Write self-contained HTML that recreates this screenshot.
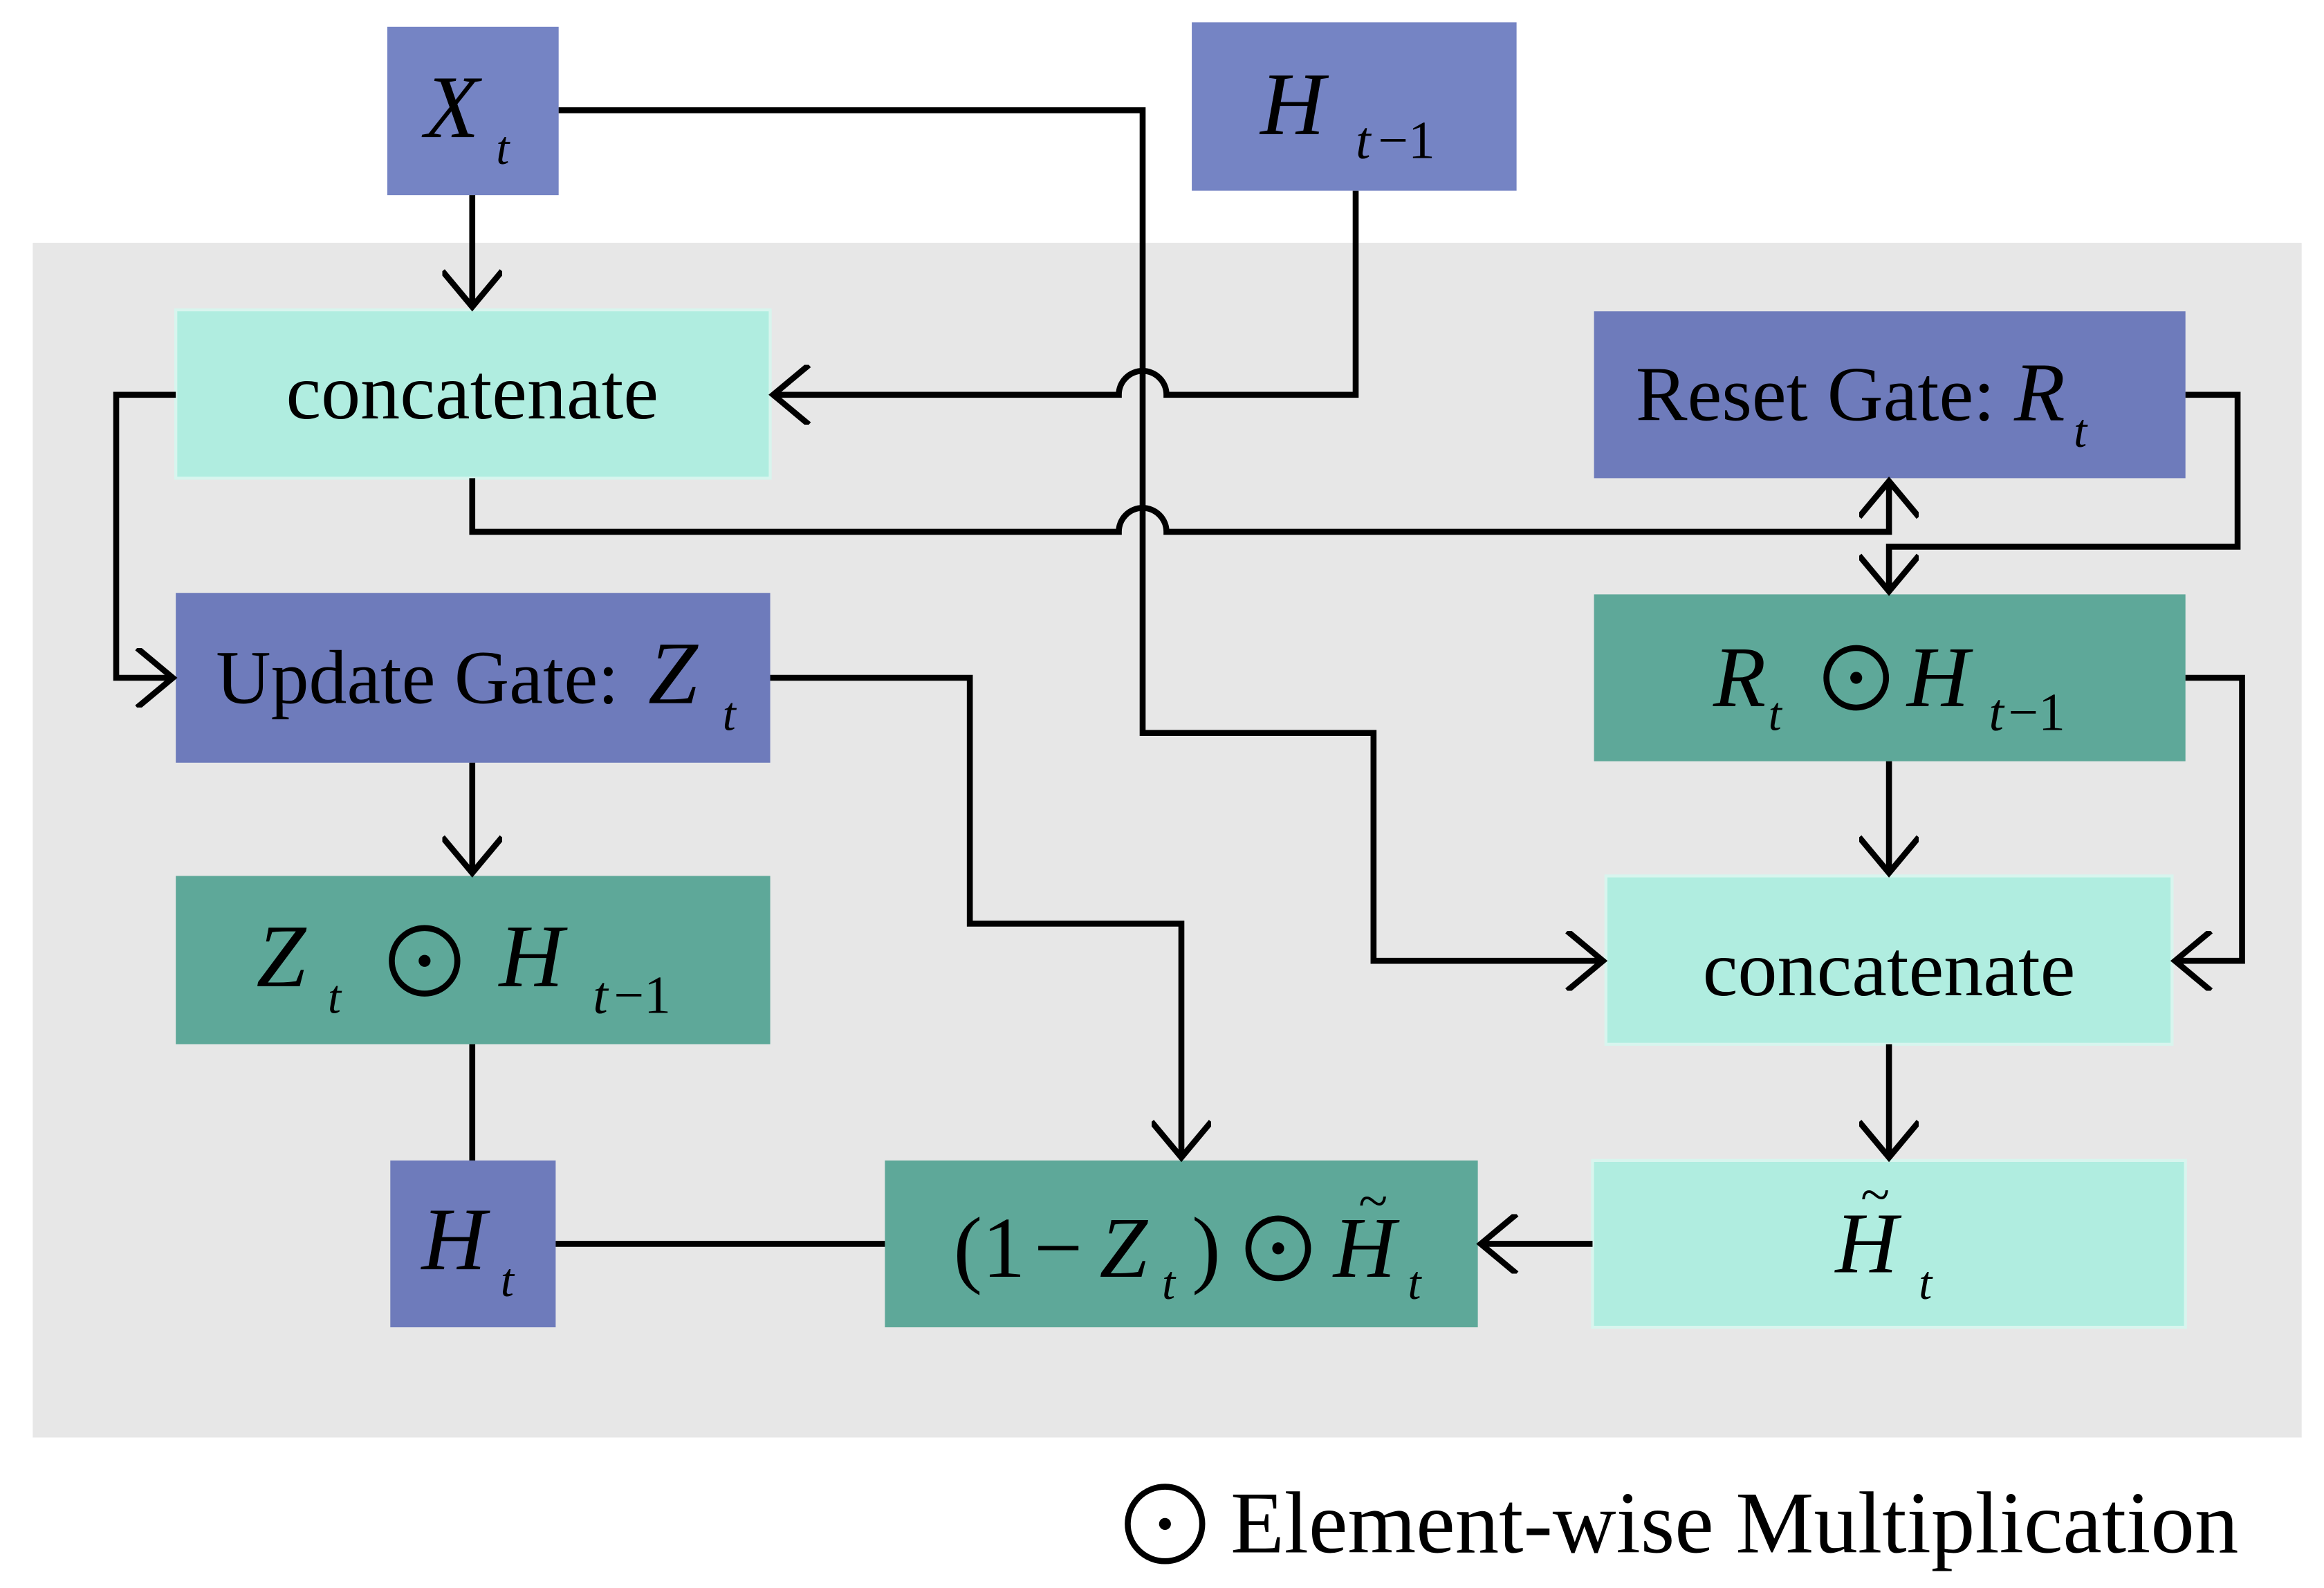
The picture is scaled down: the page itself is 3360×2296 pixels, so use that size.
<!DOCTYPE html>
<html><head><meta charset="utf-8"><style>
html,body{margin:0;padding:0;background:#fff}
svg{display:block}
text{font-family:"Liberation Serif","DejaVu Serif",serif;fill:#000}
.i{font-style:italic}
</style></head><body>
<svg width="3360" height="2296" viewBox="0 0 1560 1066" xmlns="http://www.w3.org/2000/svg">
<defs>
<marker id="a" markerWidth="40" markerHeight="40" refX="30" refY="20" orient="auto" markerUnits="userSpaceOnUse">
<path d="M6,0 L30,20 L6,40" fill="none" stroke="#000" stroke-width="4"/>
</marker>
</defs>
<rect x="22" y="163" width="1523" height="802" fill="#e7e7e7"/>
<rect x="260" y="18" width="115" height="113" fill="#7584c4"/>
<rect x="800" y="15" width="218" height="113" fill="#7584c4"/>
<rect x="118" y="208" width="399" height="113" fill="#b0ede0" stroke="#d8f5ee" stroke-width="2"/>
<rect x="1070" y="209" width="397" height="112" fill="#6e7bbb"/>
<rect x="118" y="398" width="399" height="114" fill="#6e7bbb"/>
<rect x="1070" y="399" width="397" height="112" fill="#5ea899"/>
<rect x="118" y="588" width="399" height="113" fill="#5ea899"/>
<rect x="1078" y="588" width="380" height="113" fill="#b0ede0" stroke="#d8f5ee" stroke-width="2"/>
<rect x="262" y="779" width="111" height="112" fill="#6e7bbb"/>
<rect x="594" y="779" width="398" height="112" fill="#5ea899"/>
<rect x="1069" y="779" width="398" height="112" fill="#b0ede0" stroke="#d8f5ee" stroke-width="2"/>
<g fill="none" stroke="#000" stroke-width="4">
<path d="M317,131 V206" marker-end="url(#a)"/>
<path d="M375,74 H767 V492 H922 V645 H1076" marker-end="url(#a)"/>
<path d="M910,128 V265 H783 A16,16 0 0 0 751,265 H519" marker-end="url(#a)"/>
<path d="M317,321 V357 H751 A16,16 0 0 1 783,357 H1268 V323" marker-end="url(#a)"/>
<path d="M1467,265 H1502 V367 H1268 V397" marker-end="url(#a)"/>
<path d="M118,265 H78 V455 H116" marker-end="url(#a)"/>
<path d="M517,455 H651 V620 H793 V777" marker-end="url(#a)"/>
<path d="M317,512 V586" marker-end="url(#a)"/>
<path d="M317,701 V779"/>
<path d="M373,835 H594"/>
<path d="M1069,835 H994" marker-end="url(#a)"/>
<path d="M1268,701 V777" marker-end="url(#a)"/>
<path d="M1268,511 V586" marker-end="url(#a)"/>
<path d="M1467,455 H1505 V645 H1460" marker-end="url(#a)"/>
</g>
<!-- odot circles -->
<g fill="none" stroke="#000" stroke-width="4">
<circle cx="1246" cy="455" r="20"/>
<circle cx="285" cy="645" r="22"/>
<circle cx="858" cy="838" r="20"/>
<circle cx="782" cy="1023" r="25"/>
</g>
<g fill="#000">
<circle cx="1246" cy="455" r="4"/>
<circle cx="285" cy="645" r="4"/>
<circle cx="858" cy="838" r="4"/>
<circle cx="782" cy="1023" r="4"/>
</g>
<text x="285" y="92" font-size="60" class="i">X</text><text x="333" y="110" font-size="32" class="i">t</text>
<text x="846" y="90" font-size="60" class="i">H</text><text x="910" y="106" font-size="36" class="i">t</text><text x="925" y="106" font-size="36">−1</text>
<text x="317" y="281" font-size="53" text-anchor="middle">concatenate</text>
<text x="1098" y="282" font-size="52">Reset Gate:</text><text x="1352" y="282" font-size="56" class="i">R</text><text x="1392" y="300" font-size="32" class="i">t</text>
<text x="145" y="472" font-size="51">Update Gate:</text><text x="435" y="472" font-size="60" class="i">Z</text><text x="485" y="490" font-size="32" class="i">t</text>
<text x="1150" y="474" font-size="58" class="i">R</text><text x="1187" y="490" font-size="32" class="i">t</text>
<text x="1280" y="474" font-size="58" class="i">H</text><text x="1335" y="490" font-size="36" class="i">t</text><text x="1348" y="490" font-size="36">−1</text>
<text x="172" y="662" font-size="60" class="i">Z</text><text x="220" y="680" font-size="32" class="i">t</text>
<text x="335" y="662" font-size="60" class="i">H</text><text x="398" y="680" font-size="36" class="i">t</text><text x="412" y="680" font-size="36">−1</text>
<text x="1268" y="668" font-size="53" text-anchor="middle">concatenate</text>
<text x="283" y="852" font-size="60" class="i">H</text><text x="336" y="870" font-size="32" class="i">t</text>
<text x="640" y="857" font-size="58">(1</text><text x="694" y="857" font-size="58">−</text><text x="738" y="857" font-size="58" class="i">Z</text><text x="780" y="872" font-size="32" class="i">t</text><text x="800" y="857" font-size="58">)</text>
<text x="895" y="857" font-size="58" class="i">H</text><text x="912" y="818" font-size="36">~</text><text x="945" y="872" font-size="32" class="i">t</text>
<text x="1232" y="854" font-size="58" class="i">H</text><text x="1249" y="814" font-size="36">~</text><text x="1288" y="872" font-size="32" class="i">t</text>
<text x="826" y="1042" font-size="59">Element-wise Multiplication</text>
</svg>
</body></html>
